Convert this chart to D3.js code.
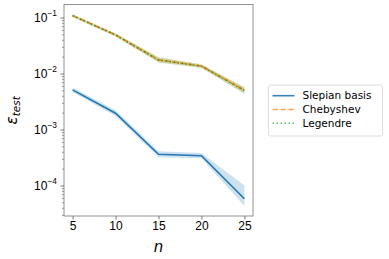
<!DOCTYPE html>
<html>
<head>
<meta charset="utf-8">
<script src="https://cdn.jsdelivr.net/npm/d3@7"></script>
<style>
  body { margin: 0; background: #fff; }
  svg { font-family: 'DejaVu Sans', sans-serif; }
</style>
</head>
<body>
<svg id="grafica"></svg>
<script>
// valores
const nValores = [5, 10, 15, 20, 25]
const slepianMedia = [5.1e-3, 1.95e-3, 3.6e-4, 3.4e-4, 5.8e-5]
const slepianBajo = [4.6e-3, 1.75e-3, 3.2e-4, 3.05e-4, 4.3e-5]
const slepianAlto = [5.6e-3, 2.2e-3, 4.1e-4, 3.8e-4, 1.0e-4]
const chebMedia = [0.108, 0.049, 0.0175, 0.0136, 5.0e-3]
const chebBajo = [0.102, 0.046, 0.0158, 0.0126, 4.4e-3]
const chebAlto = [0.114, 0.052, 0.0195, 0.0146, 5.7e-3]
const legMedia = [0.108, 0.0488, 0.0174, 0.0135, 4.95e-3]
const legBajo = [0.102, 0.0458, 0.0157, 0.0125, 4.35e-3]
const legAlto = [0.114, 0.0518, 0.0194, 0.0145, 5.65e-3]
const xTicks = [5, 10, 15, 20, 25]
const yTicks = [1e-4, 1e-3, 1e-2, 1e-1]
const yExponentes = ['−4', '−3', '−2', '−1']
const nombresSeries = ['Slepian basis', 'Chebyshev', 'Legendre']

const widthSVG = 389
const heightSVG = 259
const izq = 64, der = 253, arriba = 4.5, abajo = 216

let svg = d3.select('#grafica')
    .attr('width', widthSVG)
    .attr('height', heightSVG)

let xScale = d3.scaleLinear().domain([4, 26]).range([izq, der])
let yScale = d3.scaleLog()
    .domain([Math.pow(10, -4.545), Math.pow(10, -0.768)])
    .range([abajo, arriba])

const series = [
  { media: slepianMedia, bajo: slepianBajo, alto: slepianAlto, color: '#1f77b4', dash: null },
  { media: chebMedia, bajo: chebBajo, alto: chebAlto, color: '#ff7f0e', dash: '5.5,2.4' },
  { media: legMedia, bajo: legBajo, alto: legAlto, color: '#2ca02c', dash: '1.5,2.5' }
]

let area = d3.area()
    .x((d, i) => xScale(nValores[i]))
    .y0(d => yScale(d[0]))
    .y1(d => yScale(d[1]))
let linea = d3.line()
    .x((d, i) => xScale(nValores[i]))
    .y(d => yScale(d))

series.forEach(s => {
  svg.append('path')
     .datum(s.bajo.map((b, i) => [b, s.alto[i]]))
     .attr('d', area)
     .attr('fill', s.color)
     .attr('fill-opacity', 0.22)
})
series.forEach(s => {
  svg.append('path')
     .datum(s.media)
     .attr('d', linea)
     .attr('fill', 'none')
     .attr('stroke', s.color)
     .attr('stroke-width', 1.6)
     .attr('stroke-dasharray', s.dash)
})

// ticks menores
let menores = []
for (let k = -5; k <= -1; k++) {
  for (let m = 2; m <= 9; m++) {
    let v = m * Math.pow(10, k)
    if (v > yScale.domain()[0] && v < yScale.domain()[1]) menores.push(v)
  }
}
svg.append('g')
   .attr('transform', 'translate(' + izq + ',0)')
   .call(d3.axisLeft(yScale).tickValues(menores).tickSize(2).tickFormat(''))
   .call(g => g.select('.domain').remove())
   .call(g => g.selectAll('line').attr('stroke', '#555').attr('stroke-width', 0.6))

let yAxis = svg.append('g')
   .attr('transform', 'translate(' + izq + ',0)')
   .call(d3.axisLeft(yScale).tickValues(yTicks).tickSize(3.5).tickPadding(3.5).tickFormat(''))
yAxis.select('.domain').remove()
yAxis.selectAll('line').attr('stroke', '#555').attr('stroke-width', 0.8)
yAxis.selectAll('.tick text')
   .attr('font-size', 12)
   .attr('fill', '#000')
   .attr('dy', '0.35em')
   .each(function (d, i) {
     let t = d3.select(this)
     t.append('tspan').text('10')
     t.append('tspan').attr('font-size', 8.4).attr('dy', '-0.75em').text(yExponentes[i])
   })

let xAxis = svg.append('g')
   .attr('transform', 'translate(0,' + abajo + ')')
   .call(d3.axisBottom(xScale).tickValues(xTicks).tickSize(3.5).tickPadding(2))
xAxis.select('.domain').remove()
xAxis.selectAll('line').attr('stroke', '#555').attr('stroke-width', 0.8)
xAxis.selectAll('text').attr('font-size', 12).attr('fill', '#000')

svg.append('rect')
   .attr('x', izq).attr('y', arriba)
   .attr('width', der - izq).attr('height', abajo - arriba)
   .attr('fill', 'none').attr('stroke', '#777').attr('stroke-width', 0.8)

svg.append('text')
   .attr('x', (izq + der) / 2).attr('y', 252)
   .attr('text-anchor', 'middle')
   .attr('font-size', 15).attr('font-style', 'italic')
   .text('n')

let yLabel = svg.append('text')
   .attr('transform', 'translate(17,' + ((arriba + abajo) / 2) + ') rotate(-90)')
   .attr('text-anchor', 'middle')
   .attr('font-size', 15)
yLabel.append('tspan').attr('font-style', 'italic').text('ε')
yLabel.append('tspan').attr('font-size', 10.5).attr('dy', '0.3em').attr('font-style', 'italic').text('test')

// leyenda
let leyenda = svg.append('g')
leyenda.append('rect')
   .attr('x', 268.5).attr('y', 85)
   .attr('width', 114).attr('height', 51)
   .attr('rx', 2)
   .attr('fill', '#fff').attr('fill-opacity', 0.8)
   .attr('stroke', '#d6d6d6').attr('stroke-width', 0.8)
nombresSeries.forEach((nombre, i) => {
  let y = 95.7 + i * 13.8
  leyenda.append('line')
     .attr('x1', 272.5).attr('x2', 294.5)
     .attr('y1', y).attr('y2', y)
     .attr('stroke', series[i].color)
     .attr('stroke-opacity', i === 0 ? 0.9 : 0.7)
     .attr('stroke-width', 1.6)
     .attr('stroke-dasharray', series[i].dash)
  leyenda.append('text')
     .attr('x', 302.5).attr('y', y)
     .attr('dy', '0.35em')
     .attr('font-size', 10.5)
     .text(nombre)
})
</script>
</body>
</html>
